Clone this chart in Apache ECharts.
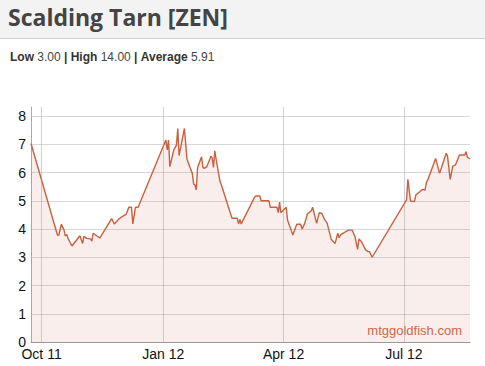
<!DOCTYPE html>
<html>
<head>
<meta charset="utf-8">
<script src="https://cdn.jsdelivr.net/npm/echarts@6/dist/echarts.min.js"></script>
<style>
html,body{margin:0;padding:0;background:#fff;}
#chart{width:485px;height:366px;}
</style>
</head>
<body>
<div id="chart"></div>
<script>
const title = 'Scalding Tarn [ZEN]';
const statLabels = ['Low', 'High', 'Average'];
const statValues = ['3.00', '14.00', '5.91'];
const watermark = 'mtggoldfish.com';

const dates = [
  '2011-09-23','2011-10-13','2011-10-14','2011-10-16','2011-10-18','2011-10-19','2011-10-20','2011-10-21',
  '2011-10-24','2011-10-30','2011-11-01','2011-11-02','2011-11-04','2011-11-07','2011-11-08','2011-11-09',
  '2011-11-14','2011-11-23','2011-11-25','2011-11-29','2011-12-04','2011-12-06','2011-12-08','2011-12-09',
  '2011-12-11','2011-12-13',
  '2012-01-03','2012-01-04','2012-01-05','2012-01-06','2012-01-09','2012-01-11','2012-01-12','2012-01-13',
  '2012-01-17','2012-01-19','2012-01-21','2012-01-23','2012-01-24','2012-01-25','2012-01-26','2012-01-27',
  '2012-01-30','2012-01-31','2012-02-01','2012-02-03','2012-02-05','2012-02-06','2012-02-07','2012-02-08',
  '2012-02-09','2012-02-10','2012-02-13','2012-02-14','2012-02-22','2012-02-26','2012-02-27','2012-02-28',
  '2012-02-29','2012-03-10','2012-03-11','2012-03-14','2012-03-15','2012-03-21','2012-03-22','2012-03-27',
  '2012-03-28','2012-03-29','2012-03-30','2012-04-03','2012-04-04','2012-04-08','2012-04-11','2012-04-14',
  '2012-04-15','2012-04-17','2012-04-19','2012-04-22','2012-04-23','2012-04-24','2012-04-26','2012-04-28',
  '2012-04-30','2012-05-02','2012-05-04','2012-05-07','2012-05-09','2012-05-10','2012-05-12','2012-05-13',
  '2012-05-14','2012-05-20','2012-05-23','2012-05-25','2012-05-27','2012-05-28','2012-05-30','2012-06-02',
  '2012-06-04','2012-06-05','2012-06-07',
  '2012-07-03','2012-07-04','2012-07-06','2012-07-09','2012-07-10','2012-07-13','2012-07-15','2012-07-17',
  '2012-07-18','2012-07-19','2012-07-25','2012-07-28','2012-08-02','2012-08-03','2012-08-05','2012-08-07',
  '2012-08-09','2012-08-12','2012-08-16','2012-08-17','2012-08-18','2012-08-20'
];
const prices = [
  7.03,3.79,3.78,4.17,3.96,3.75,3.81,3.67,
  3.40,3.76,3.49,3.74,3.67,3.65,3.57,3.85,
  3.68,4.37,4.18,4.38,4.53,4.77,4.77,4.18,
  4.77,4.77,
  7.15,6.80,7.15,6.21,6.80,6.97,7.56,6.60,
  7.56,6.47,6.21,5.97,5.59,5.56,5.38,6.18,
  6.56,6.18,6.15,6.21,6.44,6.58,6.52,6.18,
  6.77,6.47,5.67,5.56,4.38,4.38,4.18,4.34,
  4.18,5.12,5.17,5.17,5.00,5.00,4.77,4.77,
  4.58,4.95,4.58,4.77,4.32,3.79,4.17,4.17,
  4.00,4.20,4.53,4.65,4.77,4.58,4.20,4.58,
  4.55,4.34,4.20,3.64,3.53,3.49,3.85,3.69,
  3.79,3.96,3.96,3.73,3.28,3.65,3.55,3.26,
  3.20,3.20,3.00,
  5.03,5.76,4.99,4.97,5.20,5.32,5.40,5.38,
  5.64,5.73,6.50,5.97,6.68,6.58,5.76,6.23,
  6.27,6.62,6.62,6.74,6.54,6.48
];
const xTickDates = ['2011-10-01','2012-01-01','2012-04-01','2012-07-01'];
const xTickLabels = ['Oct 11','Jan 12','Apr 12','Jul 12'];
const xMin = '2011-09-23';
const xMax = '2012-08-20';
const yTicks = [0,1,2,3,4,5,6,7,8];

const ts = d => new Date(d + 'T00:00:00Z').getTime();
const seriesData = dates.map((d, i) => [ts(d), prices[i]]);
const tickTs = xTickDates.map(ts);

const chart = echarts.init(document.getElementById('chart'), null, {renderer: 'svg'});
chart.setOption({
  animation: false,
  backgroundColor: '#fff',
  graphic: [
    {type: 'rect', left: 0, top: 0, shape: {width: 485, height: 38}, style: {fill: '#f3f3f3'}, z: -1},
    {type: 'rect', left: 0, top: 38, shape: {width: 485, height: 1}, style: {fill: '#cfcfcf'}, z: -1},
    {type: 'text', left: 8, top: 5, style: {text: title, fill: '#444', font: 'bold 23px "Open Sans", sans-serif'}},
    {type: 'text', left: 10, top: 51, style: {
      rich: {b: {fontWeight: 'bold', fill: '#333', fontSize: 12, fontFamily: 'Liberation Sans, Arial'},
             n: {fill: '#444', fontSize: 12, fontFamily: 'Liberation Sans, Arial'}},
      text: statLabels.map((l, i) => '{b|' + l + '}{n| ' + statValues[i] + '}').join('{n| }{b|| }')
    }},
    {type: 'text', right: 23, top: 324, style: {text: watermark, fill: '#c9684e', font: '13px "Liberation Sans", Arial'}}
  ],
  grid: {left: 31, right: 15, top: 107, bottom: 24},
  xAxis: {
    type: 'value',
    min: ts(xMin),
    max: ts(xMax),
    axisLine: {show: true, lineStyle: {color: '#999', width: 1}},
    axisTick: {show: false},
    splitLine: {show: false},
    axisLabel: {
      customValues: tickTs,
      formatter: v => { const i = tickTs.indexOf(v); return i >= 0 ? xTickLabels[i] : ''; },
      color: '#111', fontSize: 14, fontFamily: 'Liberation Sans, Arial', margin: 5,
      hideOverlap: false
    }
  },
  yAxis: {
    type: 'value',
    min: 0,
    max: 8.32,
    interval: 1,
    axisLine: {show: true, lineStyle: {color: '#aaa'}},
    axisTick: {show: false},
    splitLine: {show: true, showMaxLine: false, lineStyle: {color: '#d8d8d8', width: 1}},
    axisLabel: {
      formatter: v => (yTicks.indexOf(v) >= 0 ? String(v) : ''),
      showMaxLabel: false,
      color: '#111', fontSize: 14, fontFamily: 'Liberation Sans, Arial', margin: 5
    }
  },
  series: [{
    type: 'line',
    data: seriesData,
    symbol: 'none',
    lineStyle: {color: '#c9603f', width: 1.4},
    areaStyle: {color: 'rgba(205,110,85,0.17)', origin: 'start'},
    markLine: {
      silent: true,
      symbol: 'none',
      label: {show: false},
      lineStyle: {color: 'rgba(150,150,150,0.45)', type: 'solid', width: 1},
      data: tickTs.map(t => ({xAxis: t}))
    },
    z: 2
  }]
});
</script>
</body>
</html>
